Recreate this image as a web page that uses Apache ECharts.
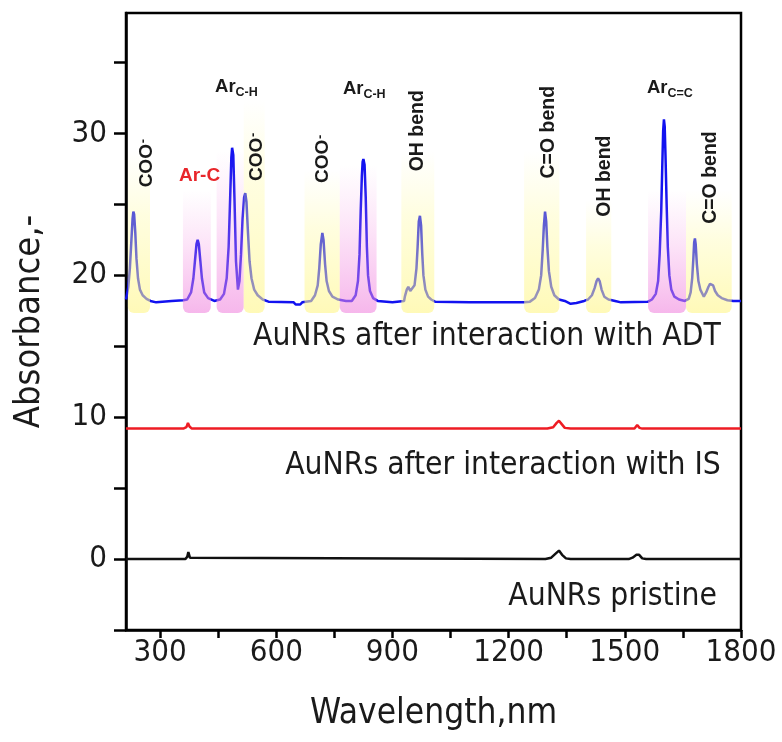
<!DOCTYPE html>
<html>
<head>
<meta charset="utf-8">
<script src="https://cdn.jsdelivr.net/npm/echarts@6/dist/echarts.min.js"></script>
<style>
  html, body { margin: 0; padding: 0; background: #fff; }
  #chart { width: 782px; height: 742px; }
</style>
</head>
<body>
<div id="chart"></div>
<script>
// Spectra: [wavelength (nm), absorbance]
const adtSpectrum = [
  [212, 18.3], [218, 19.2], [222, 20.5], [226, 22.5], [229, 24.0], [231, 24.5], [233, 24.3], [236, 23.0],
  [239, 21.2], [243, 19.8], [248, 19.0], [255, 18.6], [265, 18.35], [275, 18.2], [290, 18.1], [330, 18.2],
  [360, 18.25], [370, 18.3], [380, 18.8], [386, 19.8], [390, 21.0], [394, 22.2], [397, 22.5], [400, 22.2],
  [404, 21.0], [408, 19.8], [414, 18.8], [424, 18.4], [440, 18.2], [455, 18.3], [465, 18.7], [472, 19.8],
  [477, 22.0], [481, 25.5], [484, 28.3], [486, 29.0], [489, 28.5], [492, 25.5], [496, 21.0], [501, 19.0],
  [505, 19.6], [509, 21.5], [513, 24.0], [517, 25.5], [520, 25.8], [523, 25.2], [527, 23.0], [531, 21.0],
  [536, 19.8], [543, 19.0], [552, 18.6], [565, 18.3], [580, 18.15], [645, 18.1], [650, 17.95], [662, 17.95],
  [667, 18.1], [690, 18.2], [700, 18.6], [707, 19.3], [711, 20.5], [715, 22.2], [719, 23.0], [722, 22.5],
  [726, 20.8], [730, 19.6], [736, 18.9], [745, 18.5], [760, 18.3], [780, 18.2], [795, 18.2], [805, 18.6],
  [811, 19.6], [815, 21.5], [818, 24.5], [821, 27.0], [823, 28.0], [825, 28.2], [828, 27.8], [831, 25.5],
  [834, 22.0], [837, 20.0], [842, 18.9], [850, 18.4], [862, 18.2], [900, 18.1], [930, 18.2], [932, 18.5],
  [937, 19.0], [941, 19.2], [946, 18.9], [951, 18.8], [957, 19.3], [962, 20.5], [965, 22.0], [968, 23.8],
  [971, 24.2], [974, 23.5], [977, 21.5], [980, 20.0], [985, 19.0], [992, 18.5], [1000, 18.3], [1010, 18.15],
  [1100, 18.1], [1240, 18.1], [1255, 18.15], [1268, 18.4], [1278, 19.0], [1284, 20.0], [1288, 21.8],
  [1291, 23.5], [1294, 24.5], [1297, 23.8], [1300, 22.0], [1304, 20.3], [1310, 19.2], [1318, 18.6],
  [1330, 18.3], [1345, 18.2], [1360, 18.0], [1375, 18.05], [1395, 18.2], [1405, 18.3], [1415, 18.6],
  [1422, 19.1], [1427, 19.6], [1431, 19.8], [1435, 19.6], [1440, 19.0], [1447, 18.5], [1458, 18.3],
  [1475, 18.2], [1490, 18.1], [1560, 18.15], [1570, 18.3], [1580, 18.7], [1586, 19.6], [1590, 21.5],
  [1594, 24.5], [1597, 28.0], [1599, 30.2], [1601, 31.0], [1603, 30.5], [1605, 28.5], [1608, 25.0],
  [1611, 22.0], [1615, 20.0], [1620, 19.0], [1628, 18.5], [1640, 18.3], [1655, 18.2], [1665, 18.35],
  [1670, 18.8], [1674, 19.8], [1677, 21.2], [1679, 22.3], [1681, 22.6], [1683, 22.2], [1686, 20.8],
  [1690, 19.6], [1695, 19.0], [1704, 18.5], [1710, 18.8], [1716, 19.2], [1720, 19.4], [1724, 19.45],
  [1728, 19.3], [1733, 18.9], [1740, 18.6], [1750, 18.4], [1765, 18.25], [1780, 18.2], [1800, 18.2]
];

const isSpectrum = [
  [212, 9.2], [360, 9.2], [368, 9.3], [372, 9.6], [376, 9.35], [382, 9.2], [650, 9.2], [655, 9.3],
  [660, 9.2], [1300, 9.2], [1315, 9.3], [1324, 9.6], [1330, 9.75], [1336, 9.55], [1345, 9.25],
  [1360, 9.2], [1525, 9.2], [1532, 9.45], [1538, 9.25], [1545, 9.2], [1800, 9.2]
];

const pristineSpectrum = [
  [212, 0], [365, 0], [370, 0.15], [373, 0.5], [377, 0.1], [382, 0], [1295, 0], [1310, 0.1],
  [1322, 0.4], [1330, 0.6], [1338, 0.3], [1348, 0.05], [1360, 0], [1510, 0], [1520, 0.1],
  [1530, 0.3], [1537, 0.3], [1545, 0.05], [1555, 0], [1800, 0]
];

// Highlighted vibration bands: [from nm, to nm, top absorbance, kind (0 = yellow, 1 = pink)]
const bandRanges = [
  [217, 274, 28.8, 0], [359, 431, 26.0, 1], [446, 516, 28.8, 1], [516, 570, 32.4, 0],
  [673, 764, 27.4, 0], [764, 859, 27.8, 1], [923, 1008, 28.8, 0], [1240, 1331, 28.8, 0],
  [1400, 1465, 25.3, 0], [1560, 1658, 26.0, 1], [1658, 1776, 26.0, 0]
];
const bandBase = 17.35;

// Band assignments (anchor in data units)
const peakTags = [
  { kind: 'coo', text: 'COO', x: 266, y: 27.9 },
  { kind: 'plain', text: 'Ar-C', x: 402, y: 27.0, color: '#e8262b' },
  { kind: 'sub', text: 'Ar', sub: 'C-H', x: 442, y: 33.3 },
  { kind: 'coo', text: 'COO', x: 550, y: 28.35 },
  { kind: 'coo', text: 'COO', x: 721, y: 28.2 },
  { kind: 'sub', text: 'Ar', sub: 'C-H', x: 772, y: 33.15 },
  { kind: 'rot', text: 'OH bend', x: 966, y: 30.2 },
  { kind: 'rot', text: 'C=O bend', x: 1304, y: 30.1 },
  { kind: 'rot', text: 'OH bend', x: 1449, y: 27.0 },
  { kind: 'sub', text: 'Ar', sub: 'C=C', x: 1557, y: 33.2 },
  { kind: 'rot', text: 'C=O bend', x: 1722, y: 26.9 }
];

// Curve captions (right edge anchor, data units)
const curveCaptions = [
  { text: 'AuNRs after interaction with ADT', x: 1748, y: 15.66 },
  { text: 'AuNRs after interaction with IS', x: 1748, y: 6.57 },
  { text: 'AuNRs pristine', x: 1738, y: -2.68 }
];

const xTicks = [300, 450, 600, 750, 900, 1050, 1200, 1350, 1500, 1650, 1800];
const xLabels = [300, 600, 900, 1200, 1500, 1800];
const yTicks = [-5, 0, 5, 10, 15, 20, 25, 30, 35];
const yLabels = [0, 10, 20, 30];

const FONT = '"Liberation Sans", Arial, Helvetica, sans-serif';
const NARROW = '"DejaVu Sans Condensed", "Liberation Sans Narrow", "Arial Narrow", sans-serif';
const INK = '#1a1a1a';

function bandGradient(kind) {
  const stops = kind === 1
    ? [
        { offset: 0, color: 'rgba(244,150,228,0)' },
        { offset: 0.45, color: 'rgba(244,145,226,0.25)' },
        { offset: 1, color: 'rgba(240,135,222,0.6)' }
      ]
    : [
        { offset: 0, color: 'rgba(255,250,160,0)' },
        { offset: 0.4, color: 'rgba(255,250,150,0.3)' },
        { offset: 1, color: 'rgba(255,246,140,0.62)' }
      ];
  return new echarts.graphic.LinearGradient(0, 0, 0, 1, stops);
}

function renderBand(params, api) {
  const top = api.coord([api.value(0), api.value(2)]);
  const bot = api.coord([api.value(1), bandBase]);
  return {
    type: 'rect',
    shape: { x: top[0], y: top[1], width: bot[0] - top[0], height: bot[1] - top[1], r: [0, 0, 6, 6] },
    style: { fill: bandGradient(api.value(3)) }
  };
}

function renderTag(params, api) {
  const tag = peakTags[api.value(2)];
  const p = api.coord([api.value(0), api.value(1)]);
  const base = { fontFamily: FONT, fontWeight: 'bold', fill: tag.color || INK };
  if (tag.kind === 'plain') {
    return { type: 'text', x: p[0], y: p[1],
      style: Object.assign({ text: tag.text, fontSize: 19, align: 'center', verticalAlign: 'middle' }, base) };
  }
  if (tag.kind === 'sub') {
    return { type: 'group', x: p[0], y: p[1], children: [
      { type: 'text', x: 0, y: 0,
        style: Object.assign({ text: tag.text, fontSize: 18.5, align: 'left', verticalAlign: 'middle' }, base) },
      { type: 'text', x: 20.5, y: 5.5,
        style: Object.assign({ text: tag.sub, fontSize: 12.5, align: 'left', verticalAlign: 'middle' }, base) }
    ] };
  }
  if (tag.kind === 'coo') {
    return { type: 'group', x: p[0], y: p[1], rotation: Math.PI / 2, children: [
      { type: 'text', x: -24, y: 0,
        style: Object.assign({ text: tag.text, fontSize: 19, align: 'left', verticalAlign: 'middle' }, base) },
      { type: 'text', x: 20, y: -3,
        style: Object.assign({ text: '-', fontSize: 13, align: 'left', verticalAlign: 'middle' }, base) }
    ] };
  }
  return { type: 'text', x: p[0], y: p[1], rotation: Math.PI / 2,
    style: Object.assign({ text: tag.text, fontSize: 19.5, align: 'center', verticalAlign: 'middle' }, base) };
}

function renderCaption(params, api) {
  const c = curveCaptions[api.value(2)];
  const p = api.coord([api.value(0), api.value(1)]);
  return { type: 'text', x: p[0], y: p[1],
    style: { text: c.text, fontFamily: NARROW, fontSize: 31.5, fill: INK, align: 'right', verticalAlign: 'middle' } };
}

const chart = echarts.init(document.getElementById('chart'), null, { renderer: 'canvas' });

chart.setOption({
  animation: false,
  backgroundColor: '#fff',
  grid: { left: 126, right: 41, top: 13, bottom: 112, show: true, borderColor: '#000', borderWidth: 2.5 },
  xAxis: {
    type: 'value', min: 212, max: 1800,
    name: 'Wavelength,nm', nameLocation: 'middle', nameGap: 66,
    nameTextStyle: { fontFamily: NARROW, fontSize: 35, color: INK },
    axisLine: { show: true, onZero: false, lineStyle: { color: '#000', width: 2.5 } },
    axisTick: { show: true, length: 8, customValues: xTicks, lineStyle: { color: '#000', width: 2.5 } },
    axisLabel: { customValues: xLabels, margin: 7, fontFamily: NARROW, fontSize: 31, color: INK,
      formatter: v => String(v) },
    splitLine: { show: false }
  },
  yAxis: {
    type: 'value', min: -5, max: 38.5,
    name: 'Absorbance,-', nameLocation: 'middle', nameGap: 78, nameRotate: 90,
    nameTextStyle: { fontFamily: NARROW, fontSize: 36, color: INK },
    axisLine: { show: true, onZero: false, lineStyle: { color: '#000', width: 2.5 } },
    axisTick: { show: true, length: 12, customValues: yTicks, lineStyle: { color: '#000', width: 2.5 } },
    axisLabel: { customValues: yLabels, margin: 19, fontFamily: NARROW, fontSize: 31, color: INK,
      formatter: v => String(v) },
    splitLine: { show: false }
  },
  series: [
    { type: 'line', name: 'pristine', data: pristineSpectrum, showSymbol: false, silent: true, z: 2,
      lineStyle: { color: '#111', width: 2.5 } },
    { type: 'line', name: 'IS', data: isSpectrum, showSymbol: false, silent: true, z: 2,
      lineStyle: { color: '#ee1c24', width: 2.5 } },
    { type: 'line', name: 'ADT', data: adtSpectrum, showSymbol: false, silent: true, z: 2,
      lineStyle: { color: '#1212f0', width: 2.5 } },
    { type: 'custom', name: 'bands', data: bandRanges, renderItem: renderBand, silent: true, z: 3,
      encode: { x: [0, 1], y: 2 } },
    { type: 'custom', name: 'tags', data: peakTags.map((t, i) => [t.x, t.y, i]), renderItem: renderTag,
      silent: true, z: 4, encode: { x: 0, y: 1 } },
    { type: 'custom', name: 'captions', data: curveCaptions.map((c, i) => [c.x, c.y, i]), renderItem: renderCaption,
      silent: true, z: 4, encode: { x: 0, y: 1 } }
  ]
});
</script>
</body>
</html>
